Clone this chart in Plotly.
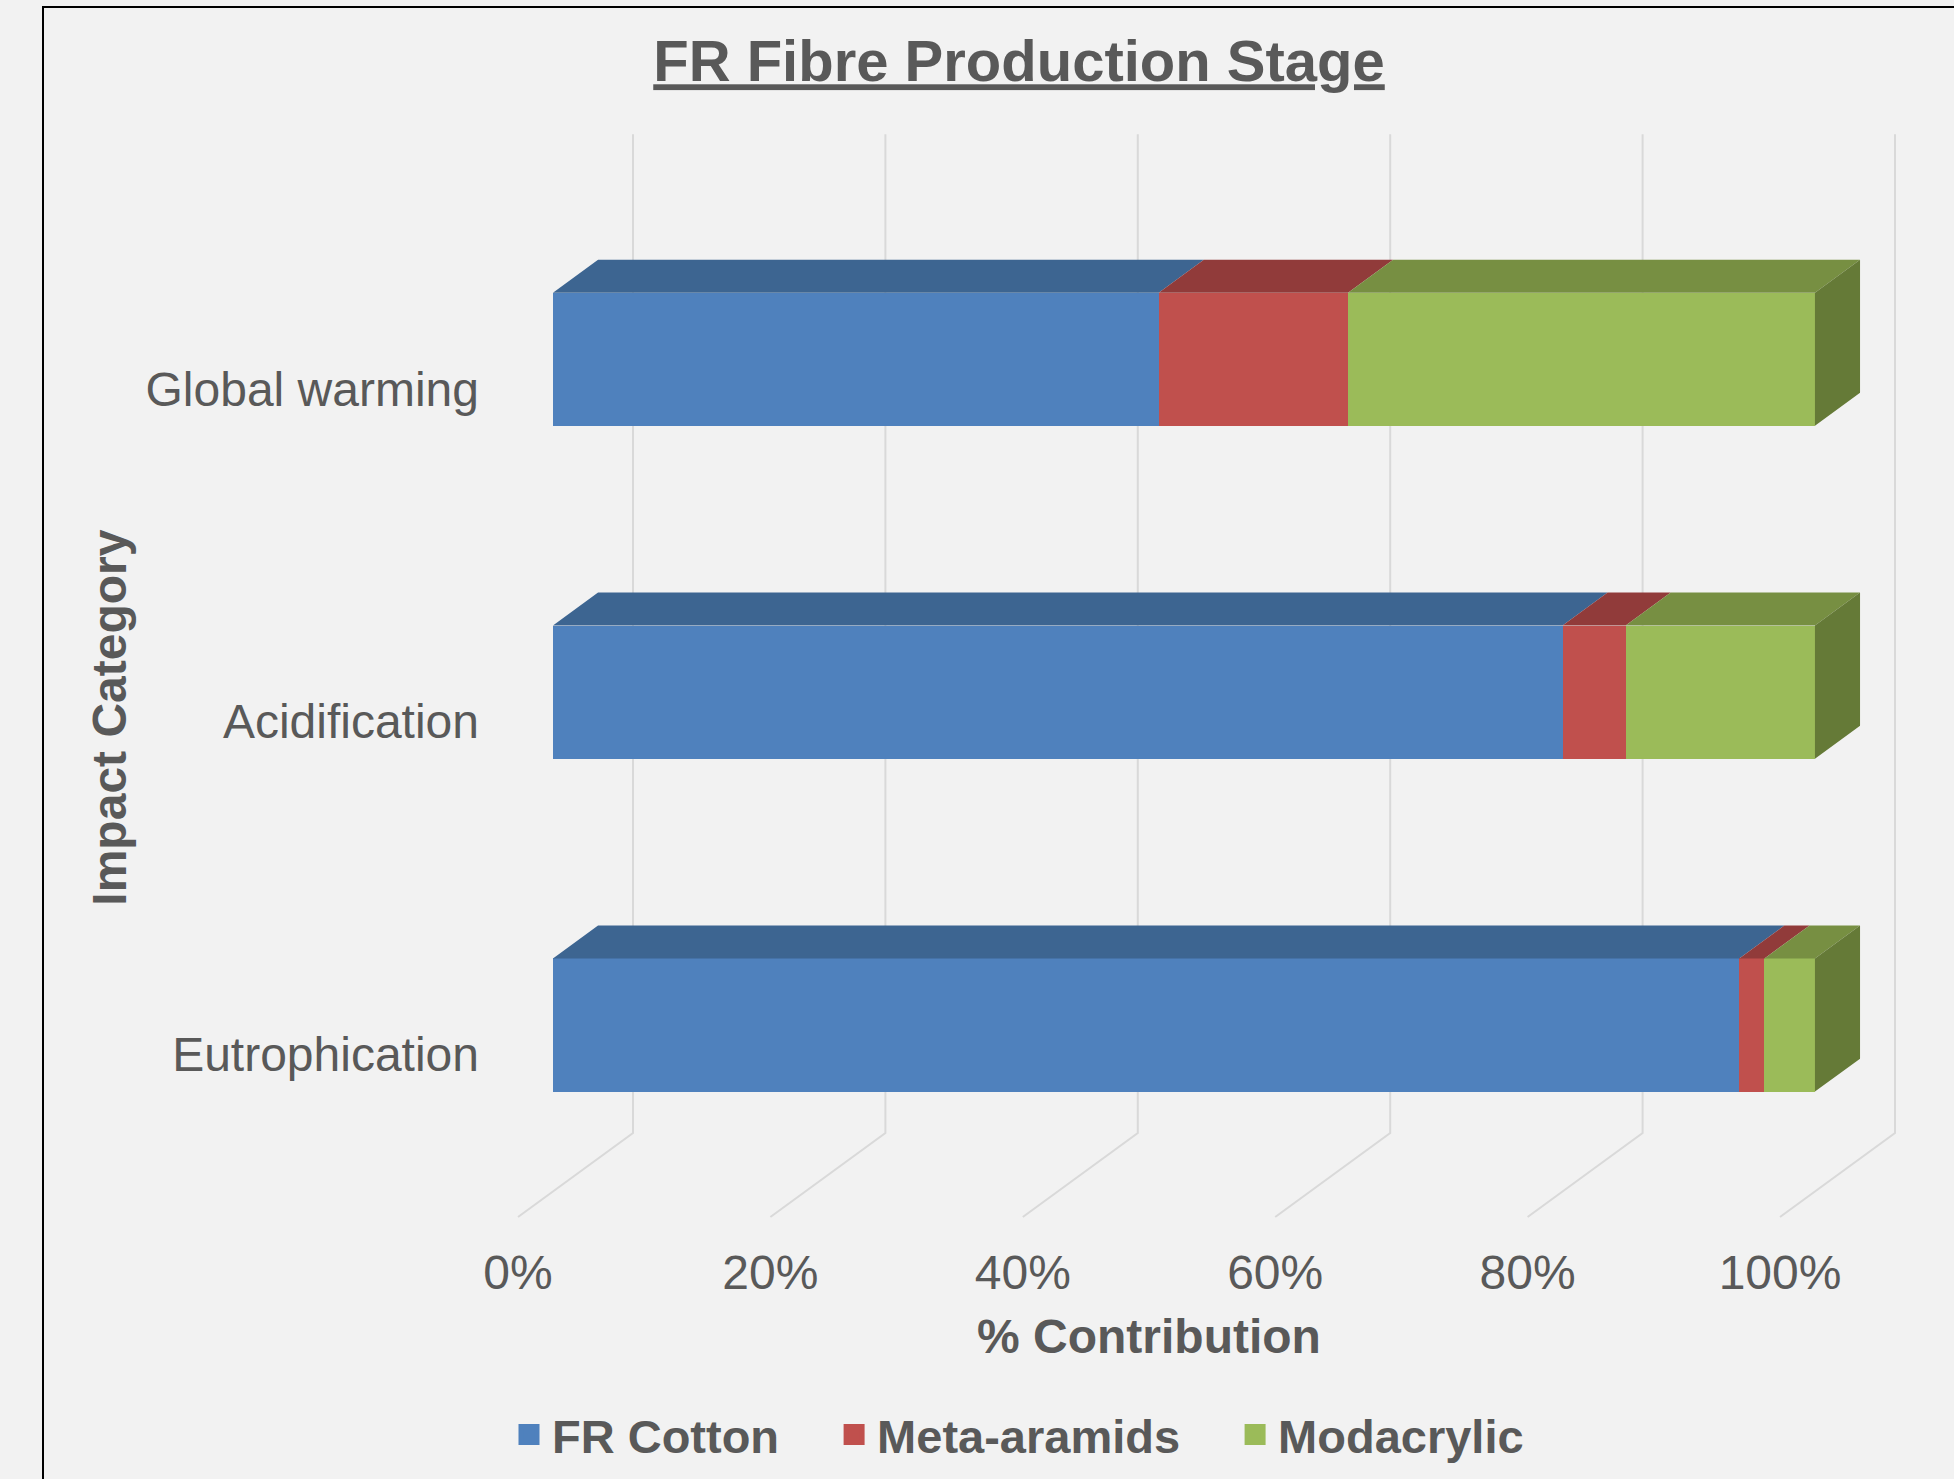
import plotly.graph_objects as go

# ---- data: share of each fibre in the FR fibre production stage (%) ----
categories = ["Eutrophication", "Acidification", "Global warming"]
series_names = ["FR Cotton", "Meta-aramids", "Modacrylic"]
fr_cotton = [94, 80, 48]
meta_aramids = [2, 5, 15]
modacrylic = [4, 15, 37]
x_ticks = [0, 20, 40, 60, 80, 100]

series_values = [fr_cotton, meta_aramids, modacrylic]

# ---- styling ----
FONT = "Liberation Sans, Arial, sans-serif"
TEXT = "#595959"
BG = "#F2F2F2"
front_colors = ["#4F81BD", "#C0504D", "#9BBB59"]
top_colors = ["#3D6591", "#913B3A", "#778F42"]
side_color = "#657A37"
GRID = "#D9D9D9"

# ---- layout geometry (pixels) ----
W, H = 1954, 1479
L, R, T, B = 510, 1900, 128, 1223          # plot box
ORIGIN_X, ORIGIN_Y = 518, 1217              # 0 % on the front edge of the floor
PX_PER_PCT = 12.62
PX_PER_CAT = 332.9

# oblique projection of the depth axis, in data units
DX = 115 / PX_PER_PCT
DY = 84 / PX_PER_CAT
D_FRONT, D_BACK = 0.304, 0.696              # bar depth slot (0 = front, 1 = back wall)
HALF = 0.2                                  # half bar thickness (category units)

x_range = [(L - ORIGIN_X) / PX_PER_PCT, (R - ORIGIN_X) / PX_PER_PCT]
y_range = [-0.5 - (B - ORIGIN_Y) / PX_PER_CAT, -0.5 + (ORIGIN_Y - T) / PX_PER_CAT]


def px_to_paper_x(px):
    return (px - L) / (R - L)


def px_to_paper_y(py):
    return (B - py) / (B - T)


def proj(v, c, d):
    """Project (value, category, depth) onto the 2-D axes."""
    return v + d * DX, c + d * DY


fig = go.Figure()
cat_pos = list(range(len(categories)))

# cumulative starts of every segment
starts = []
running = [0.0] * len(categories)
for vals in series_values:
    starts.append(list(running))
    running = [r + v for r, v in zip(running, vals)]

# top faces
for s, vals in enumerate(series_values):
    xs, ys = [], []
    for i, c in enumerate(cat_pos):
        a, e = starts[s][i], starts[s][i] + vals[i]
        for v, d in [(a, D_FRONT), (e, D_FRONT), (e, D_BACK), (a, D_BACK), (a, D_FRONT)]:
            px, py = proj(v, c + HALF, d)
            xs.append(px)
            ys.append(py)
        xs.append(None)
        ys.append(None)
    fig.add_trace(go.Scatter(
        x=xs, y=ys, mode="lines", fill="toself", fillcolor=top_colors[s],
        line=dict(width=0, color=top_colors[s]), hoverinfo="skip",
        showlegend=False, legendgroup=series_names[s]))

# right-hand side faces of the last segment
xs, ys = [], []
for i, c in enumerate(cat_pos):
    e = running[i]
    for cc, d in [(c - HALF, D_FRONT), (c + HALF, D_FRONT), (c + HALF, D_BACK),
                  (c - HALF, D_BACK), (c - HALF, D_FRONT)]:
        px, py = proj(e, cc, d)
        xs.append(px)
        ys.append(py)
    xs.append(None)
    ys.append(None)
fig.add_trace(go.Scatter(
    x=xs, y=ys, mode="lines", fill="toself", fillcolor=side_color,
    line=dict(width=0, color=side_color), hoverinfo="skip",
    showlegend=False, legendgroup=series_names[-1]))

# front faces
for s, vals in enumerate(series_values):
    fig.add_trace(go.Bar(
        orientation="h",
        x=vals,
        y=[proj(0, c, D_FRONT)[1] for c in cat_pos],
        base=[proj(starts[s][i], 0, D_FRONT)[0] for i in range(len(cat_pos))],
        width=2 * HALF,
        marker=dict(color=front_colors[s], line=dict(width=0)),
        name=series_names[s], legendgroup=series_names[s], showlegend=False,
        customdata=categories,
        hovertemplate="%{customdata}<br>" + series_names[s] + ": %{x}%<extra></extra>"))

# legend keys
for s, name in enumerate(series_names):
    fig.add_trace(go.Scatter(
        x=[None], y=[None], mode="markers", name=name + "\u2003",
        legendgroup=name,
        marker=dict(symbol="square", size=16, color=front_colors[s],
                    line=dict(width=5, color=front_colors[s]))))

# back-wall gridlines running down and forward across the floor
shapes = []
top_y = len(categories) - 0.5 + DY
for v in x_ticks:
    bx, by = proj(v, -0.5, 1.0)
    fx, fy = proj(v, -0.5, 0.0)
    shapes.append(dict(
        type="path", xref="x", yref="y", layer="below",
        path=f"M{bx},{top_y} L{bx},{by} L{fx},{fy}",
        line=dict(color=GRID, width=2)))

# chart-area outline
shapes.append(dict(
    type="rect", xref="paper", yref="paper", layer="above",
    x0=px_to_paper_x(43), x1=px_to_paper_x(W + 20),
    y0=px_to_paper_y(H + 20), y1=px_to_paper_y(7),
    line=dict(color="black", width=2), fillcolor="rgba(0,0,0,0)"))

annotations = [
    dict(text="<b>% Contribution</b>", xref="x", yref="paper",
         x=50, y=px_to_paper_y(1336), xanchor="center", yanchor="middle",
         showarrow=False, font=dict(family=FONT, size=48, color=TEXT)),
    dict(text="<b>Impact Category</b>", xref="paper", yref="y",
         x=px_to_paper_x(110), y=1, xanchor="center", yanchor="middle",
         textangle=-90, showarrow=False,
         font=dict(family=FONT, size=48, color=TEXT)),
]

fig.update_layout(
    width=W, height=H,
    margin=dict(l=L, r=W - R, t=T, b=H - B, autoexpand=False),
    paper_bgcolor=BG, plot_bgcolor=BG,
    barmode="overlay", bargap=0,
    font=dict(family=FONT, color=TEXT, size=48),
    title=dict(
        text="FR Fibre Production Stage",
        x=1019 / W, xanchor="center", xref="container",
        y=1 - 61 / H, yanchor="middle", yref="container",
        font=dict(family=FONT, size=58, color=TEXT, weight="bold",
                  lineposition="under")),
    xaxis=dict(range=x_range, tickvals=x_ticks, ticktext=[f"{v}%" for v in x_ticks],
               showgrid=False, zeroline=False, showline=False, ticks="",
               ticklabelstandoff=17, tickfont=dict(size=48, color=TEXT),
               fixedrange=True),
    yaxis=dict(range=y_range, tickvals=cat_pos, ticktext=categories,
               showgrid=False, zeroline=False, showline=False, ticks="",
               ticklabelstandoff=30, ticklabelshift=4,
               tickfont=dict(size=48, color=TEXT), fixedrange=True),
    legend=dict(orientation="h", x=px_to_paper_x(506), y=px_to_paper_y(1435),
                xanchor="left", yanchor="middle", bgcolor="rgba(0,0,0,0)",
                itemwidth=36,
                font=dict(family=FONT, size=47, color=TEXT, weight="bold")),
    shapes=shapes,
    annotations=annotations,
)

fig.write_html("out.html")
